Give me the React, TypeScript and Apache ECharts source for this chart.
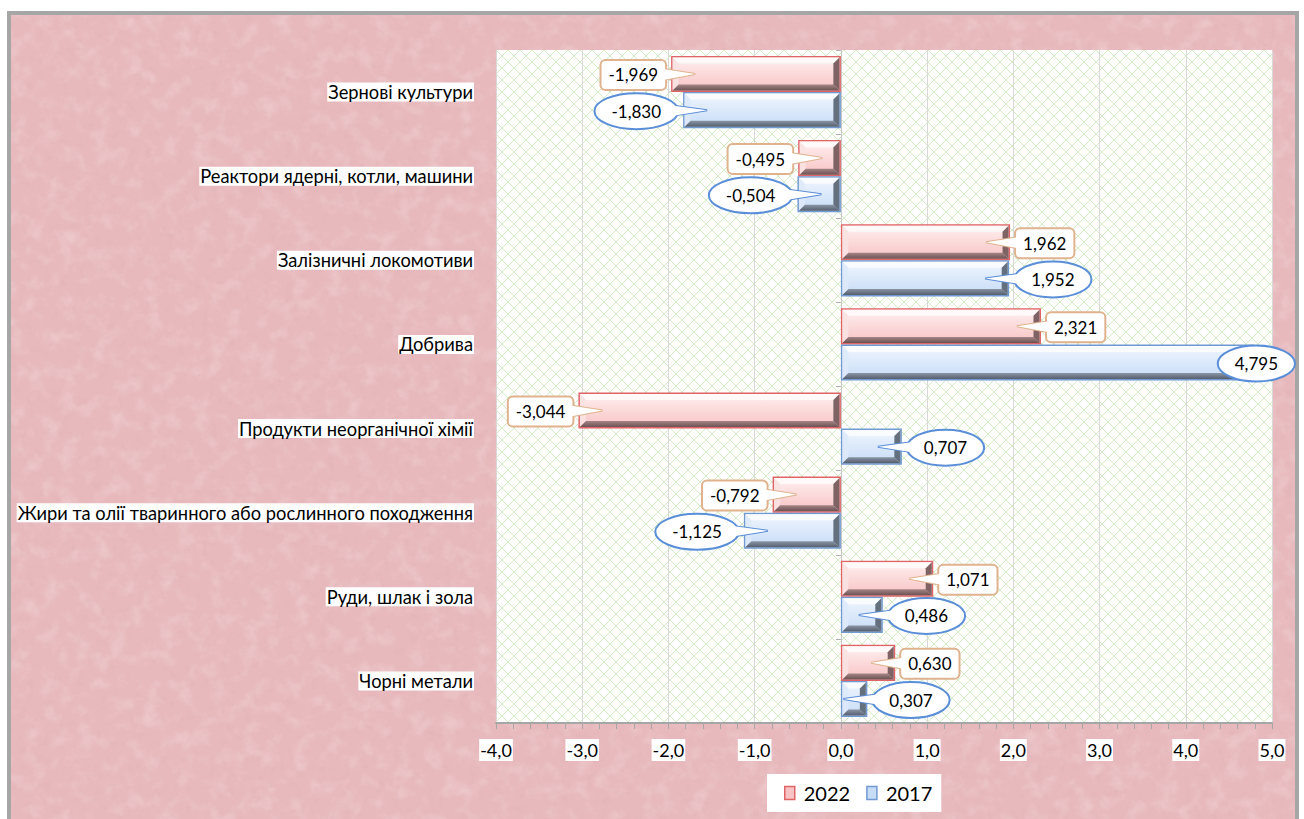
import React, { useEffect, useRef } from "react";
import * as echarts from "echarts";

// ---------- data ----------
const categories = [
  "Зернові культури",
  "Реактори ядерні, котли, машини",
  "Залізничні локомотиви",
  "Добрива",
  "Продукти неорганічної хімії",
  "Жири та олії тваринного або рослинного походження",
  "Руди, шлак і зола",
  "Чорні метали",
];
const seriesNames = ["2022", "2017"];
const values2022 = [-1.969, -0.495, 1.962, 2.321, -3.044, -0.792, 1.071, 0.63];
const values2017 = [-1.83, -0.504, 1.952, 4.795, 0.707, -1.125, 0.486, 0.307];
const axisMin = -4;
const axisMax = 5;
const axisStep = 1;

// ---------- styles ----------
const FONT = "Lato";
const LABEL_FONT_SIZE = 17;
const LABEL_FONT = `${LABEL_FONT_SIZE}px ${FONT}`;
const BAR_FRACTION = 0.43;

const PAL = [
  {
    edge: "#e06366",
    faceTop: "#fff0f0",
    faceBottom: "#f8c3c4",
    light: "rgba(255,250,250,0.92)",
    lightSide: "rgba(250,226,226,0.9)",
    darkA: "#a58586",
    darkB: "#6c5253",
    darkSide: "#7f6364",
    labelStroke: "#e0b38e",
    shape: "rect",
  },
  {
    edge: "#719ad3",
    faceTop: "#f0f6ff",
    faceBottom: "#c7dcf6",
    light: "rgba(250,252,255,0.92)",
    lightSide: "rgba(222,233,250,0.9)",
    darkA: "#8a94a4",
    darkB: "#545e6d",
    darkSide: "#65707f",
    labelStroke: "#5a8ed8",
    shape: "ellipse",
  },
];

const measureCanvas = document.createElement("canvas");
const measureCtx = measureCanvas.getContext("2d") as CanvasRenderingContext2D;
function textWidth(s: string, font: string) {
  measureCtx.font = font;
  return measureCtx.measureText(s).width;
}
const fmt3 = (v: number) => v.toFixed(3).replace(".", ",");
const fmt1 = (v: number) => v.toFixed(1).replace(".", ",");

function svgUrl(svg: string) {
  return "data:image/svg+xml;charset=utf-8," + encodeURIComponent(svg);
}

const pinkTexture = (w: number, h: number) =>
  svgUrl(
    `<svg xmlns='http://www.w3.org/2000/svg' width='${w}' height='${h}'>` +
      `<filter id='f' x='0' y='0' width='100%' height='100%'><feTurbulence type='fractalNoise' baseFrequency='0.06' numOctaves='4' seed='7'/>` +
      `<feColorMatrix type='matrix' values='0 0 0 0 1  0 0 0 0 1  0 0 0 0 1  1.6 0 0 0 -0.72'/></filter>` +
      `<filter id='g' x='0' y='0' width='100%' height='100%'><feTurbulence type='fractalNoise' baseFrequency='0.12' numOctaves='3' seed='3'/>` +
      `<feColorMatrix type='matrix' values='0 0 0 0 0.6  0 0 0 0 0.35  0 0 0 0 0.38  -1.6 0 0 0 0.68'/></filter>` +
      `<rect width='100%' height='100%' fill='#e7b8bc'/>` +
      `<rect width='100%' height='100%' filter='url(#f)' opacity='0.32'/>` +
      `<rect width='100%' height='100%' filter='url(#g)' opacity='0.25'/>` +
      `</svg>`
  );

const lattice = (w: number, h: number) =>
  svgUrl(
    `<svg xmlns='http://www.w3.org/2000/svg' width='${w}' height='${h}'>` +
      `<defs><pattern id='p' width='12' height='12' patternUnits='userSpaceOnUse'>` +
      `<path d='M0 0L12 12M12 0L0 12' stroke='#d3ecc6' stroke-width='1'/></pattern></defs>` +
      `<rect width='100%' height='100%' fill='#ffffff'/><rect width='100%' height='100%' fill='url(#p)'/></svg>`
  );

function makeRenderItem(si: number) {
  const pal = PAL[si];
  return (params: any, api: any) => {
    const v = api.value(0) as number;
    const cat = api.value(1) as number;
    const pZero = api.coord([0, cat]);
    const pEnd = api.coord([v, cat]);
    const band = api.size([0, 1])[1];
    const h = band * BAR_FRACTION;
    const yTop = pZero[1] - h + si * h;
    const x0 = Math.min(pZero[0], pEnd[0]);
    const x1 = Math.max(pZero[0], pEnd[0]);
    const w = x1 - x0;
    const b = Math.min(6, w / 2.6, h / 4);
    const ix0 = x0 + 1.5,
      ix1 = x1 - 1.5,
      iy0 = yTop + 1.5,
      iy1 = yTop + h - 1.5;

    const children: any[] = [
      { type: "rect", shape: { x: x0, y: yTop, width: w, height: h }, style: { fill: pal.edge } },
      {
        type: "rect",
        shape: { x: ix0, y: iy0, width: ix1 - ix0, height: iy1 - iy0 },
        style: {
          fill: {
            type: "linear",
            x: 0,
            y: 0,
            x2: 0,
            y2: 1,
            colorStops: [
              { offset: 0, color: pal.faceTop },
              { offset: 1, color: pal.faceBottom },
            ],
          },
        },
      },
      {
        type: "polygon",
        shape: { points: [[ix0, iy0], [ix1, iy0], [ix1 - b, iy0 + b], [ix0 + b, iy0 + b]] },
        style: { fill: pal.light },
      },
      {
        type: "polygon",
        shape: { points: [[ix0, iy0], [ix0 + b, iy0 + b], [ix0 + b, iy1 - b], [ix0, iy1]] },
        style: { fill: pal.lightSide },
      },
      {
        type: "polygon",
        shape: { points: [[ix0, iy1], [ix1, iy1], [ix1 - b, iy1 - b], [ix0 + b, iy1 - b]] },
        style: {
          fill: {
            type: "linear",
            x: 0,
            y: 0,
            x2: 0,
            y2: 1,
            colorStops: [
              { offset: 0, color: pal.darkA },
              { offset: 1, color: pal.darkB },
            ],
          },
        },
      },
      {
        type: "polygon",
        shape: { points: [[ix1, iy0], [ix1, iy1], [ix1 - b, iy1 - b], [ix1 - b, iy0 + b]] },
        style: { fill: pal.darkSide },
      },
    ];

    // callout label
    const cy = yTop + h / 2 + 1;
    const txt = fmt3(v);
    const tw = textWidth(txt, LABEL_FONT);
    const out = v < 0 ? -1 : 1;
    const isRect = pal.shape === "rect";
    const halfW = isRect ? tw / 2 + 8 : tw / 2 + 17;
    const halfH = isRect ? 15 : 18;
    let cx = pEnd[0] + out * (5 + halfW);
    const cs = params.coordSys;
    const maxRight = cs.x + cs.width + 23;
    if (cx + halfW > maxRight) cx = maxRight - halfW;
    const tipX = pEnd[0] - out * 24;
    const baseX = cx - out * (halfW - (isRect ? 3 : 8));
    const pointer = [
      [baseX, cy - 6],
      [tipX, cy - 1],
      [baseX, cy + 5],
    ];
    const stroke = pal.labelStroke;
    children.push({
      type: "polygon",
      shape: { points: pointer },
      style: { fill: "#fff", stroke, lineWidth: 2 },
      z2: 20,
    });
    if (isRect) {
      children.push({
        type: "rect",
        shape: { x: cx - halfW, y: cy - halfH, width: halfW * 2, height: halfH * 2, r: 5 },
        style: { fill: "#fff", stroke, lineWidth: 2 },
        z2: 21,
      });
    } else {
      children.push({
        type: "ellipse",
        shape: { cx, cy, rx: halfW, ry: halfH },
        style: { fill: "#fff", stroke, lineWidth: 2 },
        z2: 21,
      });
    }
    children.push({
      type: "polygon",
      shape: { points: pointer },
      style: { fill: "#fff" },
      z2: 22,
    });
    children.push({
      type: "text",
      style: {
        text: txt,
        x: cx,
        y: cy,
        align: "center",
        verticalAlign: "middle",
        font: LABEL_FONT,
        fill: "#000",
      },
      z2: 23,
    });
    return { type: "group", children };
  };
}

export default function App() {
  const ref = useRef<HTMLDivElement>(null);
  useEffect(() => {
    if (!ref.current) return;
    const chart = echarts.init(ref.current, undefined, { renderer: "svg" });
    const gridLeft = 496,
      gridTop = 50,
      gridRight = 32,
      gridBottom = 96;
    const W = 1304,
      H = 819;
    const plotW = W - gridLeft - gridRight;
    const plotH = H - gridTop - gridBottom;
    const seriesData = [values2022, values2017];
    const option: any = {
      animation: false,
      backgroundColor: "#ffffff",
      graphic: [
        {
          type: "image",
          z: -20,
          silent: true,
          style: { image: pinkTexture(1286, 808), x: 10, y: 14, width: 1286, height: 808 },
        },
        {
          type: "rect",
          z: -19,
          silent: true,
          shape: { x: 9, y: 13, width: 1288, height: 830 },
          style: { fill: "none", stroke: "#a6a6a6", lineWidth: 4 },
        },
        {
          type: "image",
          z: -18,
          silent: true,
          style: { image: lattice(plotW, plotH), x: gridLeft, y: gridTop, width: plotW, height: plotH },
        },
      ],
      legend: {
        data: seriesNames.map((n, i) => ({
          name: n,
          icon: "rect",
          itemStyle: { color: PAL[i].faceBottom, borderColor: PAL[i].edge, borderWidth: 1.5 },
        })),
        left: 767,
        top: 774,
        backgroundColor: "#ffffff",
        padding: [9, 9, 9, 17],
        itemGap: 16,
        itemWidth: 10,
        itemHeight: 13,
        textStyle: { fontFamily: FONT, fontSize: 20, color: "#000", padding: [0, 0, 0, 4] },
      },
      grid: { left: gridLeft, top: gridTop, right: gridRight, bottom: gridBottom, containLabel: false },
      xAxis: {
        type: "value",
        min: axisMin,
        max: axisMax,
        interval: axisStep,
        axisLine: { show: true, onZero: false, lineStyle: { color: "#a6a6a6", width: 2 } },
        axisTick: { show: true, length: 6, lineStyle: { color: "#a6a6a6" } },
        minorTick: { show: true, splitNumber: 5, length: 6, lineStyle: { color: "#a6a6a6" } },
        splitLine: { show: true, lineStyle: { color: "#d9d9d9", width: 1 } },
        axisLabel: {
          formatter: (v: number) => fmt1(v),
          fontFamily: FONT,
          fontSize: 18,
          color: "#000",
          backgroundColor: "#ffffff",
          padding: [2, 1, 2, 1],
          margin: 16,
        },
      },
      yAxis: [
        {
          type: "category",
          data: categories,
          inverse: true,
          axisLine: { show: false, onZero: false },
          axisTick: { show: false },
          splitLine: { show: false },
          axisLabel: {
            margin: 22,
            fontFamily: FONT,
            fontSize: 18.3,
            color: "#000",
            backgroundColor: "#ffffff",
            padding: [1, 1, 0, 1],
          },
        },
        {
          type: "category",
          data: categories,
          inverse: true,
          position: "left",
          axisLine: { show: true, onZero: true, lineStyle: { color: "#c8c8c8" } },
          axisTick: { show: true, length: 5, inside: false, lineStyle: { color: "#b0b0b0" } },
          axisLabel: { show: false },
          splitLine: { show: false },
        },
      ],
      series: seriesNames.map((name, si) => ({
        name,
        type: "custom",
        yAxisIndex: 0,
        clip: false,
        itemStyle: { color: PAL[si].faceBottom },
        encode: { x: 0, y: 1 },
        data: seriesData[si].map((v, i) => [v, i]),
        renderItem: makeRenderItem(si),
      })),
    };
    chart.setOption(option);
    return () => chart.dispose();
  }, []);
  return (
    <div
      ref={ref}
      style={{ position: "fixed", left: 0, top: 0, width: 1304, height: 819 }}
    />
  );
}
